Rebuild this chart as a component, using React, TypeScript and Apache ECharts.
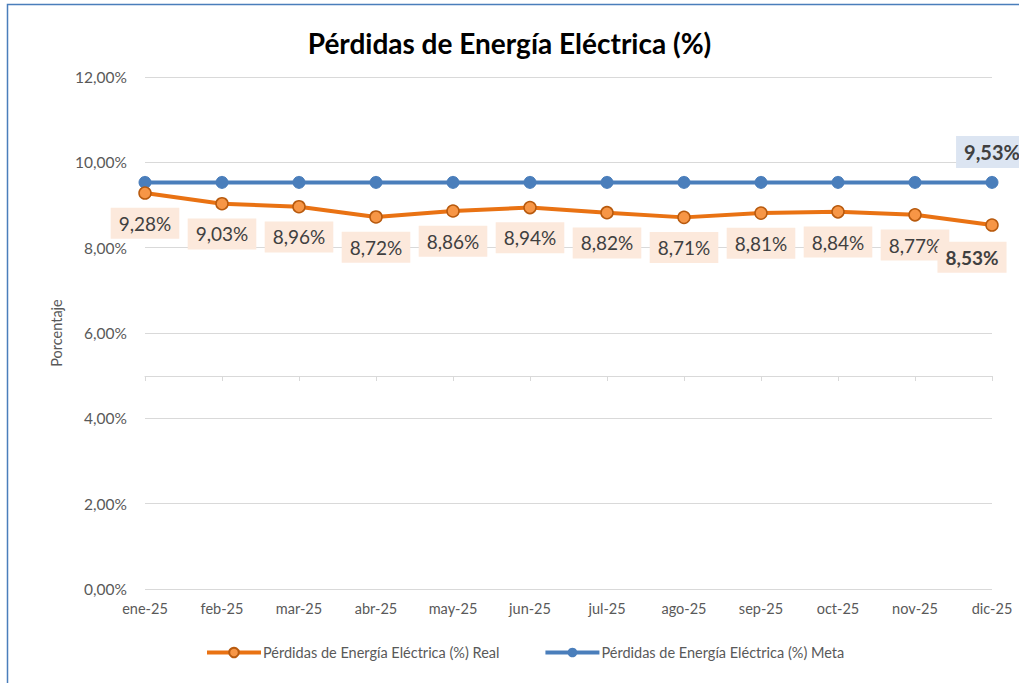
import React, { useEffect, useRef } from "react";
import * as echarts from "echarts";

const categories = ["ene-25", "feb-25", "mar-25", "abr-25", "may-25", "jun-25", "jul-25", "ago-25", "sep-25", "oct-25", "nov-25", "dic-25"];
const realValues = [9.28, 9.03, 8.96, 8.72, 8.86, 8.94, 8.82, 8.71, 8.81, 8.84, 8.77, 8.53];
const metaValues = [9.53, 9.53, 9.53, 9.53, 9.53, 9.53, 9.53, 9.53, 9.53, 9.53, 9.53, 9.53];
const titleText = "Pérdidas de Energía Eléctrica (%)";
const realName = "Pérdidas de Energía Eléctrica (%) Real";
const metaName = "Pérdidas de Energía Eléctrica (%) Meta";
const yAxisName = "Porcentaje";

const FONT = "Lato, 'Open Sans', sans-serif";
const fmt = (v: number) => v.toFixed(2).replace(".", ",") + "%";

export default function App() {
  const ref = useRef<HTMLDivElement>(null);
  useEffect(() => {
    if (!ref.current) return;
    const chart = echarts.init(ref.current, undefined, { renderer: "svg" });
    const last = realValues.length - 1;
    const realData = realValues.map((v, i) => ({
      value: v,
      label: i === last ? { fontWeight: "bold", offset: [-20, 2] } : {},
    }));
    const metaData = metaValues.map((v, i) => ({
      value: v,
      label: i === last ? { show: true } : { show: false },
    }));
    chart.setOption({
      animation: false,
      textStyle: { fontFamily: FONT },
      title: {
        text: titleText,
        left: "center",
        top: 24,
        textStyle: { fontFamily: FONT, fontSize: 28, fontWeight: "bold", color: "#000" },
      },
      graphic: [
        {
          type: "rect",
          shape: { x: 7.5, y: 4.5, width: 1200, height: 1000 },
          style: { fill: "none", stroke: "#4A7EBB", lineWidth: 1.5 },
          silent: true,
        },
      ],
      legend: {
        bottom: 18,
        left: 200,
        itemWidth: 54,
        itemHeight: 12,
        itemGap: 44,
        lineStyle: { width: 4 },
        textStyle: { fontFamily: FONT, fontSize: 14.5, color: "#595959", padding: [0, 0, 0, -3] },
        data: [realName, metaName],
      },
      grid: [
        { left: 145, right: 27, top: 77, bottom: 94 },
        { left: 145, right: 27, top: 77, height: 299 },
      ],
      xAxis: [
        {
          type: "category",
          gridIndex: 0,
          data: categories,
          boundaryGap: false,
          axisLine: { show: false },
          axisTick: { show: false },
          axisLabel: { color: "#595959", fontSize: 14.5, margin: 12, fontFamily: FONT },
        },
        {
          type: "category",
          gridIndex: 1,
          data: categories,
          boundaryGap: false,
          position: "bottom",
          axisLine: { show: true, lineStyle: { color: "#D9D9D9", width: 1 } },
          axisTick: { show: true, length: 5, lineStyle: { color: "#D9D9D9" } },
          axisLabel: { show: false },
        },
      ],
      yAxis: [
        {
          type: "value",
          gridIndex: 0,
          min: 0,
          max: 12,
          interval: 2,
          name: yAxisName,
          nameLocation: "middle",
          nameGap: 80,
          nameTextStyle: { color: "#595959", fontSize: 14.5, fontFamily: FONT },
          axisLine: { show: false },
          axisTick: { show: false },
          axisLabel: { color: "#595959", fontSize: 15.5, margin: 18, fontFamily: FONT, formatter: (v: number) => fmt(v) },
          splitLine: { lineStyle: { color: "#D9D9D9", width: 1 } },
        },
        {
          type: "value",
          gridIndex: 1,
          min: 0,
          max: 1,
          show: false,
        },
      ],
      series: [
        {
          name: realName,
          type: "line",
          xAxisIndex: 0,
          yAxisIndex: 0,
          data: realData,
          symbol: "circle",
          symbolSize: 12,
          z: 3,
          lineStyle: { color: "#E97213", width: 4 },
          itemStyle: { color: "#F79646", borderColor: "#B85A0E", borderWidth: 1.5 },
          label: {
            show: true,
            position: "bottom",
            distance: 8,
            formatter: (p: any) => fmt(p.value),
            color: "#404040",
            fontSize: 19,
            fontFamily: FONT,
            backgroundColor: "#FCE9DC",
            padding: [6, 8, 6, 8],
          },
        },
        {
          name: metaName,
          type: "line",
          xAxisIndex: 0,
          yAxisIndex: 0,
          data: metaData,
          symbol: "circle",
          symbolSize: 12,
          z: 2,
          lineStyle: { color: "#4A7EBB", width: 4 },
          itemStyle: { color: "#4A7EBB", borderColor: "#4A7EBB" },
          label: {
            position: "top",
            distance: 8,
            formatter: (p: any) => fmt(p.value),
            color: "#404040",
            fontSize: 20,
            fontWeight: "bold",
            fontFamily: FONT,
            backgroundColor: "#DCE5F2",
            padding: [6, 8, 6, 8],
          },
        },
      ],
    });
    return () => chart.dispose();
  }, []);
  return (
    <div style={{ position: "absolute", left: 0, top: 0, width: 1019, height: 683, background: "#fff" }}>
      <div ref={ref} style={{ width: 1019, height: 683 }} />
    </div>
  );
}
